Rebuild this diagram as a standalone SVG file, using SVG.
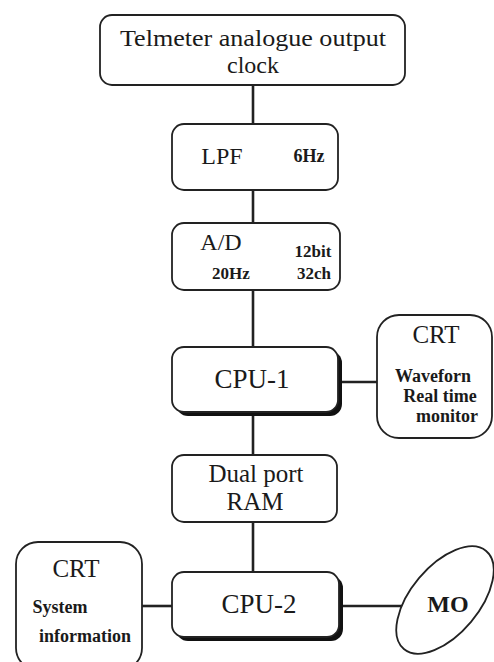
<svg xmlns="http://www.w3.org/2000/svg" width="494" height="662" viewBox="0 0 494 662">
<style>
.box{fill:#fff;stroke:#222;stroke-width:1.8}
.sh{fill:#111}
.t{font-family:"Liberation Serif","Times New Roman",serif;fill:#1a1a1a}
.b{font-weight:bold}
.c{stroke:#222;stroke-width:2.6;fill:none}
</style>
<rect width="494" height="662" fill="#fff"/>
<g id="connectors">
<line class="c" x1="253" y1="85" x2="253" y2="124"/>
<line class="c" x1="253" y1="190" x2="253" y2="223"/>
<line class="c" x1="253" y1="290" x2="253" y2="347"/>
<line class="c" x1="253" y1="415" x2="253" y2="455"/>
<line class="c" x1="253" y1="522" x2="253" y2="572"/>
<line class="c" x1="342" y1="382" x2="377" y2="382"/>
<line class="c" x1="142" y1="606" x2="172" y2="606"/>
<line class="c" x1="343" y1="606" x2="402" y2="606"/>
</g>
<g id="telemeter">
<rect class="box" x="100" y="15" width="305" height="70" rx="12"/>
<text class="t" x="253" y="46" font-size="24" text-anchor="middle" textLength="266" lengthAdjust="spacingAndGlyphs">Telmeter analogue output</text>
<text class="t" x="253" y="73" font-size="24" text-anchor="middle">clock</text>
</g>
<g id="lpf">
<rect class="box" x="172" y="124" width="166" height="66" rx="12"/>
<text class="t" x="222" y="164" font-size="24" text-anchor="middle">LPF</text>
<text class="t b" x="309" y="162" font-size="18" text-anchor="middle">6Hz</text>
</g>
<g id="ad">
<rect class="box" x="172" y="223" width="168" height="67" rx="12"/>
<text class="t" x="221" y="250" font-size="24" text-anchor="middle">A/D</text>
<text class="t b" x="313" y="257" font-size="17" text-anchor="middle">12bit</text>
<text class="t b" x="231" y="279" font-size="17" text-anchor="middle">20Hz</text>
<text class="t b" x="314" y="279" font-size="17" text-anchor="middle">32ch</text>
</g>
<g id="cpu1">
<rect class="sh" x="176" y="351" width="166" height="65" rx="12"/>
<rect class="box" x="172" y="347" width="166" height="65" rx="12"/>
<text class="t" x="252" y="388" font-size="27" text-anchor="middle">CPU-1</text>
</g>
<g id="crt1">
<rect class="box" x="377" y="315" width="115" height="123" rx="22"/>
<text class="t" x="436" y="343" font-size="25" text-anchor="middle">CRT</text>
<text class="t b" x="433" y="382" font-size="18" text-anchor="middle">Waveforn</text>
<text class="t b" x="440" y="402" font-size="18" text-anchor="middle">Real time</text>
<text class="t b" x="447" y="422" font-size="18" text-anchor="middle">monitor</text>
</g>
<g id="dpram">
<rect class="box" x="172" y="455" width="165" height="67" rx="12"/>
<text class="t" x="256" y="482" font-size="25" text-anchor="middle">Dual port</text>
<text class="t" x="255" y="510" font-size="25" text-anchor="middle">RAM</text>
</g>
<g id="cpu2">
<rect class="sh" x="176" y="576" width="167" height="65" rx="12"/>
<rect class="box" x="172" y="572" width="167" height="65" rx="12"/>
<text class="t" x="259" y="613" font-size="27" text-anchor="middle">CPU-2</text>
</g>
<g id="crt2">
<rect class="box" x="16" y="542" width="126" height="128" rx="22"/>
<text class="t" x="76" y="577" font-size="25" text-anchor="middle">CRT</text>
<text class="t b" x="60" y="613" font-size="18" text-anchor="middle">System</text>
<text class="t b" x="85" y="642" font-size="18" text-anchor="middle">information</text>
</g>
<g id="mo">
<ellipse class="box" cx="445" cy="600" rx="64" ry="34" transform="rotate(-50 445 600)"/>
<text class="t b" x="448" y="612" font-size="24" text-anchor="middle">MO</text>
</g>
</svg>
